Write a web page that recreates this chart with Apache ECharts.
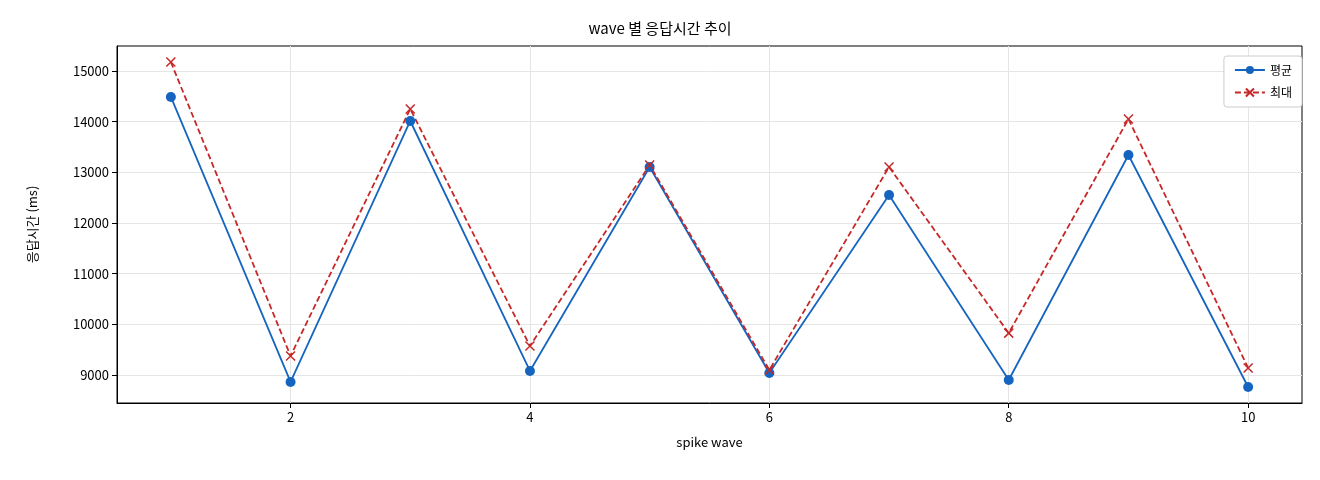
<!DOCTYPE html>
<html><head><meta charset="utf-8">
<script src="https://cdn.jsdelivr.net/npm/echarts@6/dist/echarts.min.js"></script>
<style>html,body{margin:0;padding:0;background:#fff}#c{width:1320px;height:480px}</style>
</head><body><div id="c"></div>
<script>
const waves = [1,2,3,4,5,6,7,8,9,10];
const avgVals = [14487,8862,14013,9079,13105,9039,12553,8901,13342,8763];
const maxVals = [15178,9375,14250,9572,13145,9099,13105,9826,14053,9138];
const xTicks = [2,4,6,8,10];
const yTicks = [9000,10000,11000,12000,13000,14000,15000];
const F = "'Noto Sans CJK KR','DejaVu Sans',sans-serif";
const chart = echarts.init(document.getElementById('c'));
chart.setOption({
  animation:false,
  title:{text:'wave 별 응답시간 추이',left:'center',top:16,textStyle:{fontFamily:F,fontSize:15,fontWeight:'normal',color:'#000'}},
  legend:{right:18,top:56,orient:'vertical',itemGap:10,backgroundColor:'#fff',borderColor:'#ccc',borderWidth:1,borderRadius:3,padding:[8,10],
    textStyle:{fontFamily:F,fontSize:12,color:'#000'},itemWidth:30,itemHeight:10,
    data:['평균','최대']},
  grid:{left:117,right:18,top:46,bottom:77,show:true,borderColor:'#000',borderWidth:1},
  xAxis:{type:'value',min:0.55,max:10.45,name:'spike wave',nameLocation:'middle',nameGap:33,
    nameTextStyle:{fontFamily:F,fontSize:13,color:'#000'},
    axisLine:{show:true,onZero:false,lineStyle:{color:'#000'}},
    axisTick:{show:true,customValues:xTicks,length:5,lineStyle:{color:'#000'}},
    axisLabel:{customValues:xTicks,fontFamily:F,fontSize:13,color:'#000',formatter:v=>String(v)},
    splitLine:{show:true,lineStyle:{color:'#e5e5e5'}}},
  yAxis:{type:'value',min:8447,max:15493,name:'응답시간 (ms)',nameLocation:'middle',nameGap:78,
    nameTextStyle:{fontFamily:F,fontSize:13,color:'#000'},
    axisLine:{show:true,lineStyle:{color:'#000'}},
    axisTick:{show:true,customValues:yTicks,length:5,lineStyle:{color:'#000'}},
    axisLabel:{customValues:yTicks,fontFamily:F,fontSize:13,color:'#000',formatter:v=>String(v)},
    splitLine:{show:true,lineStyle:{color:'#e5e5e5'}}},
  series:[
    {name:'평균',type:'line',data:waves.map((w,i)=>[w,avgVals[i]]),symbol:'circle',symbolSize:10,
      lineStyle:{color:'#1565c0',width:1.8},itemStyle:{color:'#1565c0'}},
    {name:'최대',type:'line',data:waves.map((w,i)=>[w,maxVals[i]]),
      symbol:'path://M0,0L10,10M10,0L0,10',symbolSize:9,
      lineStyle:{color:'#c62828',width:1.8,type:[6,3]},itemStyle:{color:'none',borderColor:'#c62828',borderWidth:1.5}}
  ]
});
</script></body></html>
